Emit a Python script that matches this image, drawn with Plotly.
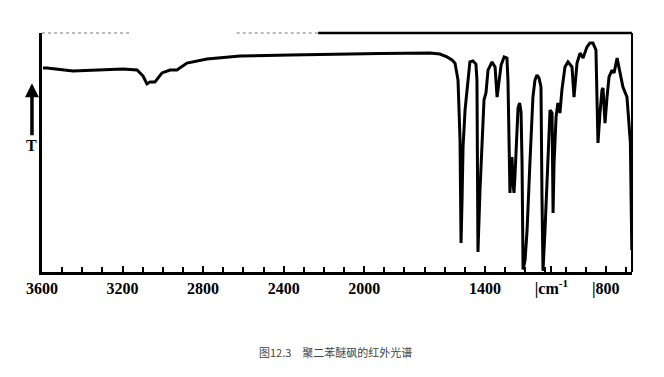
import plotly.graph_objects as go

# Wavenumber (cm^-1) and transmittance (%)
wavenumber = [3595, 3575, 3446, 3312, 3198, 3128, 3098, 3079, 3064, 3054, 3039, 3004,
              2964, 2930, 2880, 2781, 2617, 2368, 2170, 1922, 1673, 1624, 1589, 1564,
              1549, 1534, 1524, 1519, 1514, 1509, 1499, 1489, 1475, 1460, 1445, 1440,
              1437, 1435, 1425, 1415, 1405, 1395, 1385, 1365, 1350, 1340, 1330, 1320,
              1305, 1291, 1286, 1281, 1276, 1271, 1266, 1261, 1256, 1251, 1241, 1236,
              1228, 1221, 1216, 1211, 1201, 1191, 1177, 1162, 1152, 1142, 1132, 1122,
              1117, 1112, 1102, 1087, 1077, 1067, 1062, 1057, 1047, 1038, 1028, 1018,
              1003, 988, 968, 958, 943, 928, 913, 894, 879, 864, 849, 844, 839, 829,
              819, 814, 804, 794, 784, 769, 759, 744, 729, 715, 695, 685, 678, 673, 671]
transmittance = [85.4, 85.4, 84.1, 84.5, 84.9, 84.5, 82.0, 78.7, 79.5, 79.5, 79.5, 83.3,
                 84.5, 84.5, 87.4, 89.1, 90.4, 90.8, 91.2, 91.4, 91.6, 91.2, 90.0, 88.7,
                 87.4, 80.3, 55.2, 12.1, 30.1, 52.3, 67.8, 76.2, 87.9, 88.3, 87.0, 80.3,
                 51.0, 8.4, 34.0, 55.0, 72.0, 75.0, 84.5, 87.9, 85.8, 73.2, 80.3, 86.6,
                 90.0, 89.5, 80.3, 48.1, 33.1, 44.8, 48.1, 37.2, 33.1, 40.6, 59.4, 68.6,
                 70.7, 66.9, 45.6, 1.0, 5.0, 17.6, 45.6, 73.2, 80.3, 82.4, 81.2, 77.4,
                 31.4, 0.5, 17.6, 45.6, 67.8, 66.5, 24.7, 45.6, 64.9, 70.7, 66.5, 76.2,
                 85.8, 87.9, 85.8, 73.2, 87.4, 91.6, 89.5, 94.1, 95.8, 95.8, 92.9, 73.2, 54.0, 66.5,
                 76.2, 77.0, 62.3, 73.2, 81.6, 84.5, 83.3, 89.5, 83.3, 77.4, 73.2, 59.4, 54.0, 21.8, 9.2]

tick_values = [3600, 3200, 2800, 2400, 2000, 1400, 1070, 800]
tick_labels = ["3600", "3200", "2800", "2400", "2000", "1400", "|cm<sup>-1</sup>", "|800"]

caption = "图12.3　聚二苯醚砜的红外光谱"

fig = go.Figure()
fig.add_trace(go.Scatter(
    x=wavenumber, y=transmittance, mode="lines",
    line=dict(color="black", width=3),
    showlegend=False, hoverinfo="skip",
))

fig.update_layout(
    width=664, height=377,
    margin=dict(l=34, r=40, t=25, b=113),
    paper_bgcolor="white", plot_bgcolor="white",
    xaxis=dict(
        range=[3600, 670], showgrid=False, zeroline=False,
        showline=True, linecolor="black", linewidth=3,
        tickmode="array", tickvals=tick_values, ticktext=tick_labels,
        ticks="inside", ticklen=6, tickwidth=2, tickcolor="black",
        minor=dict(ticks="inside", dtick=100, tick0=0, ticklen=5,
                   tickwidth=2, tickcolor="black"),
        tickfont=dict(family="Liberation Serif", size=16, color="black", weight="bold"),
        ticklabelstandoff=0,
    ),
    yaxis=dict(
        range=[0, 100], showgrid=False, zeroline=False,
        showline=True, linecolor="black", linewidth=3,
        showticklabels=False, ticks="",
    ),
    shapes=[
        dict(type="line", xref="paper", yref="paper", x0=0.468, x1=1.0, y0=1.0, y1=1.0,
             line=dict(color="black", width=2.5)),
        dict(type="line", xref="paper", yref="paper", x0=0.0, x1=0.15, y0=1.0, y1=1.0,
             line=dict(color="#777777", width=1, dash="dot")),
        dict(type="line", xref="paper", yref="paper", x0=0.33, x1=0.468, y0=1.0, y1=1.0,
             line=dict(color="#777777", width=1, dash="dot")),
        dict(type="line", xref="paper", yref="paper", x0=1.0, x1=1.0, y0=0.0, y1=1.0,
             line=dict(color="black", width=2)),
    ],
    annotations=[
        dict(x=-0.017, y=0.79, xref="paper", yref="paper", text="<b>T</b>",
             showarrow=True, ax=0, ay=62, arrowhead=2, arrowwidth=3.5, arrowsize=0.8,
             arrowcolor="black",
             font=dict(family="Liberation Serif", size=16, color="black")),
        dict(x=0.498, y=-0.335, xref="paper", yref="paper", text=caption,
             showarrow=False, xanchor="center", yanchor="middle",
             font=dict(family="Noto Sans CJK SC", size=11, color="#444444")),
    ],
)

fig.write_html("out.html")
